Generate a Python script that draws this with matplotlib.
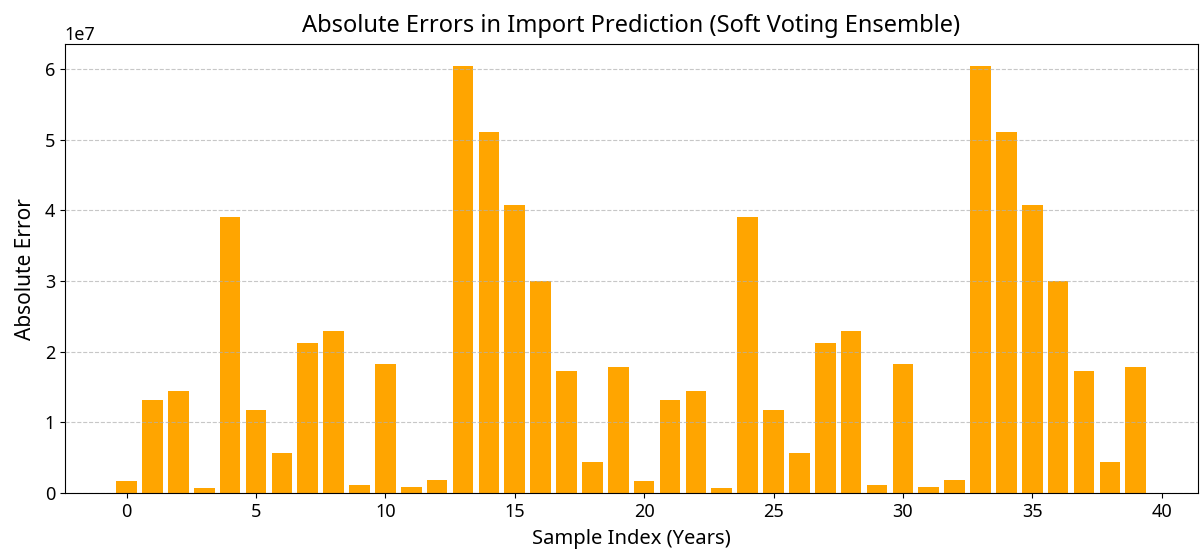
import numpy as np
import matplotlib
matplotlib.use("Agg")
import matplotlib.pyplot as plt

plt.rcParams["font.family"] = ["Noto Sans", "DejaVu Sans"]

# Absolute errors per sample (the series covers two identical 20-year blocks)
block_errors = [1.7e6, 13.2e6, 14.4e6, 0.66e6, 39.0e6, 11.7e6, 5.65e6, 21.3e6, 23.0e6, 1.13e6,
                18.2e6, 0.9e6, 1.9e6, 60.5e6, 51.1e6, 40.7e6, 30.0e6, 17.3e6, 4.4e6, 17.9e6]
abs_errors = np.array(block_errors + block_errors)
sample_index = np.arange(len(abs_errors))

fig = plt.figure(figsize=(12, 5.59), dpi=100)
ax = fig.add_axes([0.054, 0.118, 0.944, 0.803])
ax.bar(sample_index, abs_errors, color="orange")
ax.set_title("Absolute Errors in Import Prediction (Soft Voting Ensemble)", fontsize=17, pad=9)
ax.set_xlabel("Sample Index (Years)", fontsize=14.5, labelpad=6)
ax.set_ylabel("Absolute Error", fontsize=15, labelpad=6)
ax.tick_params(labelsize=13)
ax.yaxis.get_offset_text().set_fontsize(13)
ax.grid(axis="y", linestyle="--", alpha=0.7)
ax.set_axisbelow(False)

fig.savefig("out.png", dpi=100)
